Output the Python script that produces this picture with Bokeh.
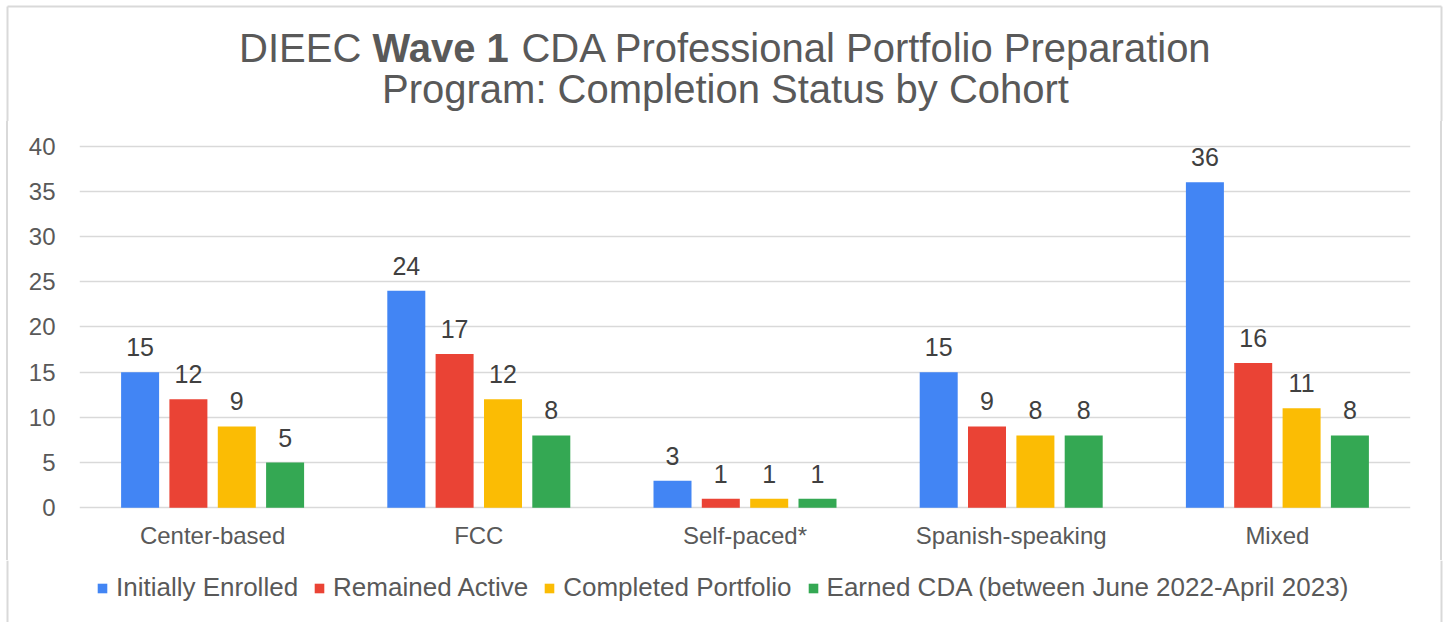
from bokeh.plotting import figure
from bokeh.layouts import column, row
from bokeh.models import (ColumnDataSource, Range1d, Legend, LegendItem, Label, FixedTicker, Spacer)
from bokeh.transform import dodge
from bokeh.embed import file_html
from bokeh.resources import INLINE
from bokeh.core.properties import value

# ---------------- data ----------------
cohorts = ["Center-based", "FCC", "Self-paced*", "Spanish-speaking", "Mixed"]
series_names = ["Initially Enrolled", "Remained Active", "Completed Portfolio",
                "Earned CDA (between June 2022-April 2023)"]
initially_enrolled = [15, 24, 3, 15, 36]
remained_active = [12, 17, 1, 9, 16]
completed_portfolio = [9, 12, 1, 8, 11]
earned_cda = [5, 8, 1, 8, 8]
y_ticks = [0, 5, 10, 15, 20, 25, 30, 35, 40]
title_line1 = ["DIEEC", "Wave 1", "CDA Professional Portfolio Preparation"]
title_line2 = "Program: Completion Status by Cohort"

# ---------------- style / geometry ----------------
colors = ["#4285F4", "#EA4335", "#FBBC04", "#34A853"]
TXT = "#595959"
BORDER = "#d9d9d9"
FONT = "Liberation Sans"
W, H = 1447, 622
LSTRIP, RSTRIP = 9, 8          # side strips carrying the outer border
FL, FR, FT, FB = 79, 1410, 141, 510   # frame in page pixels
TOPPAD = 20                     # room above the frame for the top tick label
TH = FT - TOPPAD                # title strip height
AXB = 50                        # space under the frame for category labels
LEG_H = H - FB - AXB
Y0, Y1 = -0.3, 40.5


def blank(width, height, xr, yr):
    f = figure(width=width, height=height, x_range=xr, y_range=yr, min_border=0,
               toolbar_location=None, output_backend="svg",
               x_axis_type=None, y_axis_type=None)
    f.outline_line_color = None
    f.background_fill_color = "white"
    f.border_fill_color = "white"
    return f


# ---------------- title strip ----------------
tf = blank(W, TH, Range1d(0, W), Range1d(TH, 0))
TFS = 40
em = [3.334, 3.446, 17.264]  # em widths of the three title segments (Arial metrics)
space = 0.278
total = em[0] + em[1] + em[2] + space
cx = 725
x0 = cx - total * TFS / 2
xs = [x0, x0 + em[0] * TFS, x0 + (em[0] + em[1] + space) * TFS]
for t, x, st in zip(title_line1, xs, ["normal", "bold", "normal"]):
    tf.add_layout(Label(x=x, y=47, text=t, text_font=FONT, text_font_size=f"{TFS}px",
                        text_font_style=st, text_color=TXT, text_align="left",
                        text_baseline="middle"))
tf.add_layout(Label(x=cx, y=88, text=title_line2, text_font=FONT,
                    text_font_size=f"{TFS}px", text_color=TXT, text_align="center",
                    text_baseline="middle"))
tf.segment(x0=[7, 7, 1441], y0=[6, 6, 6], x1=[1441, 7, 1441], y1=[6, TH, TH],
           line_color=BORDER, line_width=2)

# ---------------- main chart ----------------
series = [initially_enrolled, remained_active, completed_portfolio, earned_cda]
keys = ["s0", "s1", "s2", "s3"]
centers = [i + 0.5 for i in range(len(cohorts))]
data = {"xc": centers}
for k, s in zip(keys, series):
    data[k] = s
    data[k + "_t"] = [str(v) for v in s]
src = ColumnDataSource(data)

main_h = TOPPAD + FB - FT + AXB
p = figure(frame_width=FR - FL, frame_height=FB - FT,
           x_range=Range1d(0, len(cohorts)), y_range=Range1d(Y0, Y1),
           output_backend="svg", toolbar_location=None,
           min_border_left=FL - LSTRIP, min_border_right=W - RSTRIP - FR,
           min_border_top=TOPPAD, min_border_bottom=AXB)
p.outline_line_color = None
p.background_fill_color = "white"
p.border_fill_color = "white"

cat_px = (FR - FL) / len(cohorts)
px_per_y = (FB - FT) / (Y1 - Y0)
offsets = [-72.5 / cat_px, -24.2 / cat_px, 24.2 / cat_px, 72.5 / cat_px]
bar_w = 38 / cat_px
label_pad = 25 / px_per_y

for k, off, c in zip(keys, offsets, colors):
    p.vbar(x=dodge("xc", off), top=k, bottom=0, width=bar_w,
           source=src, fill_color=c, line_color=None)
    p.text(x=dodge("xc", off), y=dodge(k, label_pad), text=k + "_t", source=src,
           text_align="center", text_baseline="middle",
           text_font=value(FONT), text_font_size="25px", text_color="#404040")

p.yaxis.ticker = FixedTicker(ticks=y_ticks)
p.xaxis.ticker = FixedTicker(ticks=centers)
p.xaxis.major_label_overrides = {c: n for c, n in zip(centers, cohorts)}
for ax in (p.xaxis, p.yaxis):
    ax.axis_line_color = None
    ax.major_tick_line_color = None
    ax.minor_tick_line_color = None
    ax.major_tick_out = 0
    ax.major_tick_in = 0
    ax.major_label_text_font = FONT
    ax.major_label_text_font_size = "24px"
    ax.major_label_text_color = TXT
p.yaxis.major_label_standoff = 24
p.xaxis.major_label_standoff = 11

p.xgrid.grid_line_color = None
p.ygrid.grid_line_color = BORDER
p.ygrid.grid_line_width = 1.5

# side strips: thin grey bars forming the outer border
def bar_strip(pre, post):
    return row(Spacer(width=pre, height=main_h),
               Spacer(width=2, height=main_h, styles={"background-color": BORDER}),
               Spacer(width=post, height=main_h))

ls = bar_strip(6, LSTRIP - 8)
rs = bar_strip(1, RSTRIP - 3)

# ---------------- legend strip ----------------
lf = blank(W, LEG_H, Range1d(0, W), Range1d(LEG_H, 0))
lf.segment(x0=[7, 1441], y0=[0, 0], x1=[7, 1441], y1=[LEG_H, LEG_H],
           line_color=BORDER, line_width=2)
# legend proxies (kept outside the visible range)
proxies = [lf.vbar(x=[-100], top=[0], width=1, fill_color=c, line_color=None) for c in colors]
legend = Legend(items=[LegendItem(label=n, renderers=[r]) for n, r in zip(series_names, proxies)],
                orientation="horizontal", location=(96, 19),
                glyph_width=12, glyph_height=12, label_standoff=8, spacing=15,
                padding=0, margin=0, border_line_color=None, background_fill_alpha=0,
                label_text_font=FONT, label_text_font_size="26px", label_text_color=TXT)
lf.add_layout(legend)

layout = column(tf, row(ls, p, rs), lf)
open("out.html", "w").write(file_html(layout, INLINE))
